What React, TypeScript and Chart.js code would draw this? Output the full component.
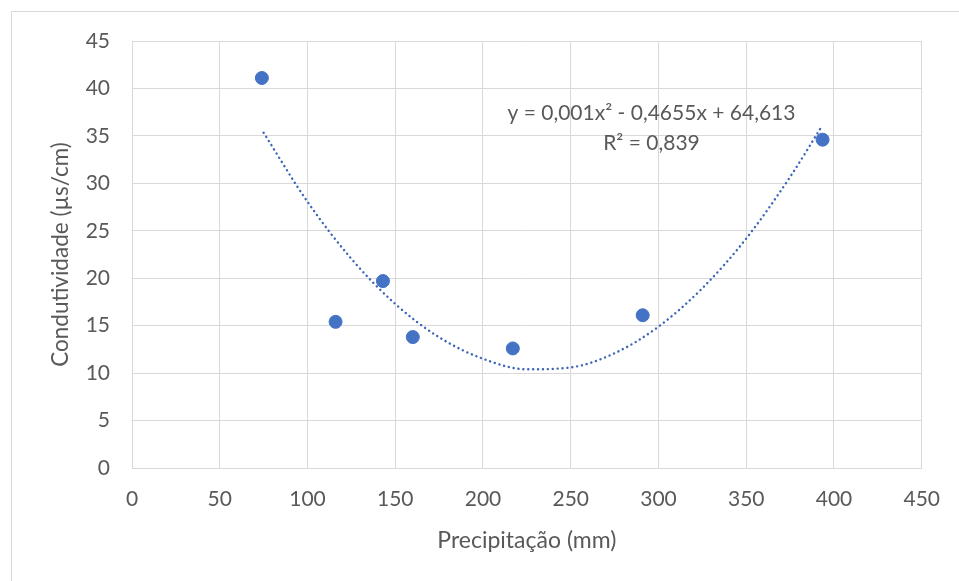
import React, { useEffect, useRef } from "react";
import { Chart, registerables } from "chart.js";

Chart.register(...registerables);

const precipitacao = [74, 116, 143, 160, 217, 291, 393.5];
const condutividade = [41.1, 15.4, 19.7, 13.8, 12.6, 16.1, 34.6];

// trendline readings (polynomial, order 2)
const trendX = [75, 100, 125, 150, 175, 200, 225, 250, 275, 300, 325, 350, 375, 393];
const trendY = [35.33, 28.06, 22.05, 17.29, 13.78, 11.51, 10.4, 10.6, 12.1, 14.9, 18.95, 24.19, 30.68, 36.0];

const equationLines = ["y = 0,001x² - 0,4655x + 64,613", "R² = 0,839"];
const equationAnchorX = 296;
const equationAnchorY = [37.4, 34.25];

const xTitle = "Precipitação (mm)";
const yTitle = "Condutividade (µs/cm)";

const BLUE = "#4472C4";
const TREND = "#3d66b8";
const GREY_TEXT = "#595959";
const GRID = "#d9d9d9";
const FONT = "Lato, 'Open Sans', sans-serif";

const equationPlugin = {
  id: "equationLabel",
  afterDatasetsDraw(chart: any) {
    const { ctx, scales } = chart;
    ctx.save();
    ctx.fillStyle = GREY_TEXT;
    ctx.font = `21px ${FONT}`;
    ctx.textAlign = "center";
    ctx.textBaseline = "middle";
    equationLines.forEach((line, i) => {
      const px = scales.x.getPixelForValue(equationAnchorX);
      const py = scales.y.getPixelForValue(equationAnchorY[i]);
      ctx.fillText(line, px, py);
    });
    ctx.restore();
  },
};

export default function App() {
  const canvasRef = useRef<HTMLCanvasElement | null>(null);

  useEffect(() => {
    if (!canvasRef.current) return;
    const chart = new Chart(canvasRef.current, {
      type: "scatter",
      data: {
        datasets: [
          {
            label: "Trendline",
            type: "line",
            data: trendX.map((x, i) => ({ x, y: trendY[i] })),
            borderColor: TREND,
            borderWidth: 2.4,
            borderDash: [0.1, 4.8],
            borderCapStyle: "round",
            pointRadius: 0,
            fill: false,
            cubicInterpolationMode: "monotone",
            order: 2,
          } as any,
          {
            label: "Condutividade",
            data: precipitacao.map((x, i) => ({ x, y: condutividade[i] })),
            backgroundColor: BLUE,
            borderColor: BLUE,
            pointRadius: 6.5,
            pointHoverRadius: 6.5,
            order: 1,
          },
        ],
      },
      options: {
        responsive: false,
        animation: false,
        layout: { padding: { left: 40, top: 41, right: 34, bottom: 0 } },
        plugins: {
          legend: { display: false },
          tooltip: { enabled: false },
        },
        scales: {
          x: {
            type: "linear",
            min: 0,
            max: 450,
            ticks: {
              stepSize: 50,
              padding: 19,
              color: GREY_TEXT,
              font: { family: FONT, size: 21 },
            },
            grid: { color: GRID, lineWidth: 1, drawTicks: false },
            border: { color: GRID, width: 1 },
            title: {
              display: true,
              text: xTitle,
              color: GREY_TEXT,
              font: { family: FONT, size: 23 },
              padding: { top: 0, bottom: 27 },
            },
            afterFit: (scale: any) => {
              scale.height = 113;
            },
          },
          y: {
            type: "linear",
            min: 0,
            max: 45,
            ticks: {
              stepSize: 5,
              padding: 22,
              color: GREY_TEXT,
              font: { family: FONT, size: 21 },
            },
            grid: { color: GRID, lineWidth: 1, drawTicks: false },
            border: { color: GRID, width: 1 },
            title: {
              display: true,
              text: yTitle,
              color: GREY_TEXT,
              font: { family: FONT, size: 22.5 },
              padding: { top: 7, bottom: 0 },
            },
            afterFit: (scale: any) => {
              scale.width = 92;
            },
          },
        },
      },
      plugins: [equationPlugin],
    });
    return () => chart.destroy();
  }, []);

  return (
    <div
      style={{
        position: "fixed",
        left: 0,
        top: 0,
        width: 959,
        height: 581,
        background: "#ffffff",
        overflow: "hidden",
      }}
    >
      <div
        style={{
          position: "absolute",
          left: 11,
          top: 11,
          width: 1000,
          height: 700,
          border: `1px solid ${GRID}`,
          boxSizing: "border-box",
        }}
      />
      <canvas
        ref={canvasRef}
        width={959}
        height={581}
        style={{ position: "absolute", left: 0, top: 0, width: 959, height: 581 }}
      />
    </div>
  );
}
